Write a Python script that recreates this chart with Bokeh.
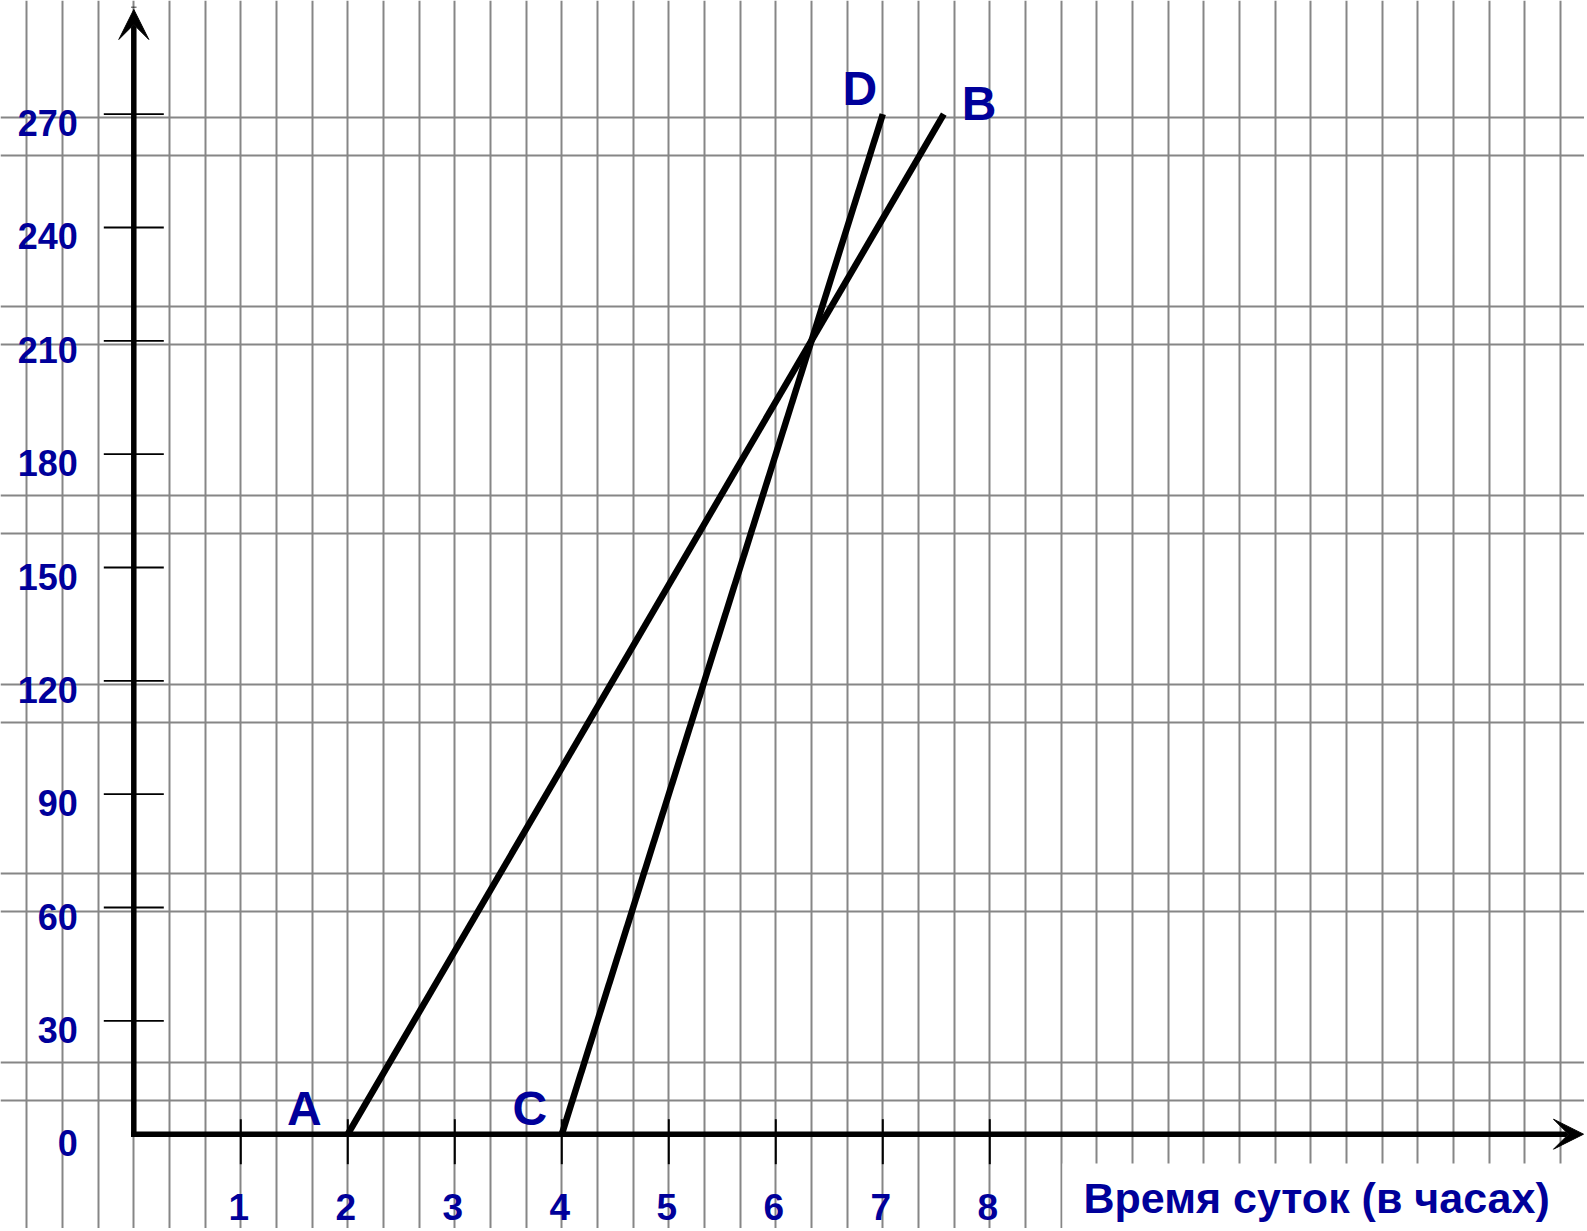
from bokeh.plotting import figure
from bokeh.models import (ColumnDataSource, Grid, FixedTicker, Arrow, VeeHead,
                          BoxAnnotation, Label, Range1d)
from bokeh.core.properties import value
from bokeh.embed import file_html
from bokeh.resources import INLINE

# ---------------- data ----------------
hour_ticks = [1, 2, 3, 4, 5, 6, 7, 8]
dist_ticks = [30, 60, 90, 120, 150, 180, 210, 240, 270]
dist_labels = [0, 30, 60, 90, 120, 150, 180, 210, 240, 270]

# route A -> B and route C -> D (time of day in hours, distance)
route_ab_time = [2.0, 7.57]
route_ab_dist = [0, 270]
route_cd_time = [4.0, 7.0]
route_cd_dist = [0, 270]

point_names = ["A", "B", "C", "D"]
point_time = [route_ab_time[0], route_ab_time[1], route_cd_time[0], route_cd_time[1]]
point_dist = [route_ab_dist[0], route_ab_dist[1], route_cd_dist[0], route_cd_dist[1]]

x_title = "Время суток (в часах)"

# graph-paper lines (background)
paper_cols = [k / 3 for k in range(-4, 42)]
paper_rows = [9, 19, 59, 69, 109, 119, 159, 169, 209, 219, 259, 269]

# ---------------- layout / style ----------------
W, H = 1584, 1228
PXH, PXV = 107.0, 3.778          # pixels per hour / per distance unit
AX_X, AX_Y = 133.3, 1133.7        # where the origin sits on the canvas
X0 = -AX_X / PXH
X1 = X0 + W / PXH
Y1 = AX_Y / PXV
Y0 = Y1 - H / PXV

BLUE = "#00009a"
FONT = "Liberation Sans"

p = figure(width=W, height=H, output_backend="svg", toolbar_location=None,
           x_axis_type=None, y_axis_type=None, min_border=0,
           x_range=Range1d(X0, X1), y_range=Range1d(Y0, Y1))
p.outline_line_color = None
p.background_fill_color = "white"
p.border_fill_color = "white"

p.add_layout(Grid(dimension=0, ticker=FixedTicker(ticks=paper_cols),
                  grid_line_color="#868686", grid_line_width=2))
p.add_layout(Grid(dimension=1, ticker=FixedTicker(ticks=paper_rows),
                  grid_line_color="#868686", grid_line_width=2))

# white box behind the axis title
p.add_layout(BoxAnnotation(left=(1062 - AX_X) / PXH, right=X1 + 1,
                           bottom=Y0 - 10, top=-(1163 - AX_Y) / PXV,
                           fill_color="white", fill_alpha=1, line_color=None,
                           level="underlay"))

# axes with arrow heads
x_tip = X0 + (W - 1) / PXH
y_tip = Y1 - 9 / PXV
p.add_layout(Arrow(end=VeeHead(size=30, fill_color="black", line_color="black", line_width=1),
                   x_start=0, y_start=0, x_end=x_tip, y_end=0,
                   line_width=5.5, line_color="black", line_cap="square"))
p.add_layout(Arrow(end=VeeHead(size=30, fill_color="black", line_color="black", line_width=1),
                   x_start=0, y_start=0, x_end=0, y_end=y_tip,
                   line_width=5.5, line_color="black", line_cap="square"))

# tick marks
p.segment(x0=hour_ticks, y0=[15 / PXV] * len(hour_ticks),
          x1=hour_ticks, y1=[-30 / PXV] * len(hour_ticks),
          line_color="black", line_width=2)
p.segment(x0=[-30 / PXH] * len(dist_ticks), y0=dist_ticks,
          x1=[30 / PXH] * len(dist_ticks), y1=dist_ticks,
          line_color="black", line_width=1.8)

# tick labels
p.text(x=hour_ticks, y=[0] * len(hour_ticks), text=[str(h) for h in hour_ticks],
       text_font=value(FONT), text_font_style="bold", text_font_size="37px",
       text_color=BLUE, text_align="center", text_baseline="alphabetic",
       x_offset=-2, y_offset=72.5)
p.text(x=[0] * len(dist_labels), y=dist_labels, text=[str(v) for v in dist_labels],
       text_font=value(FONT), text_font_style="bold", text_font_size="36px",
       text_color=BLUE, text_align="right", text_baseline="alphabetic",
       x_offset=-56, y_offset=9)

# routes
p.line(route_ab_time, route_ab_dist, line_color="black", line_width=6.5)
p.line(route_cd_time, route_cd_dist, line_color="black", line_width=6.5)

# point letters
offsets = {"A": (-43.5, -26), "B": (35.4, -11), "C": (-32, -26), "D": (-23, -26)}
src = ColumnDataSource(dict(x=point_time, y=point_dist, t=point_names,
                            dx=[offsets[n][0] for n in point_names],
                            dy=[offsets[n][1] for n in point_names]))
p.text(x="x", y="y", text="t", source=src, x_offset="dx", y_offset="dy",
       text_font=value(FONT), text_font_style="bold", text_font_size="48px",
       text_color=BLUE, text_align="center", text_baseline="alphabetic")

# axis title
p.add_layout(Label(x=(1083 - AX_X) / PXH, y=-(1197 - AX_Y) / PXV, text=x_title,
                   text_font=FONT, text_font_style="bold", text_font_size="43px",
                   text_color=BLUE, text_align="left", text_baseline="alphabetic"))

open("out.html", "w").write(file_html(p, INLINE))
